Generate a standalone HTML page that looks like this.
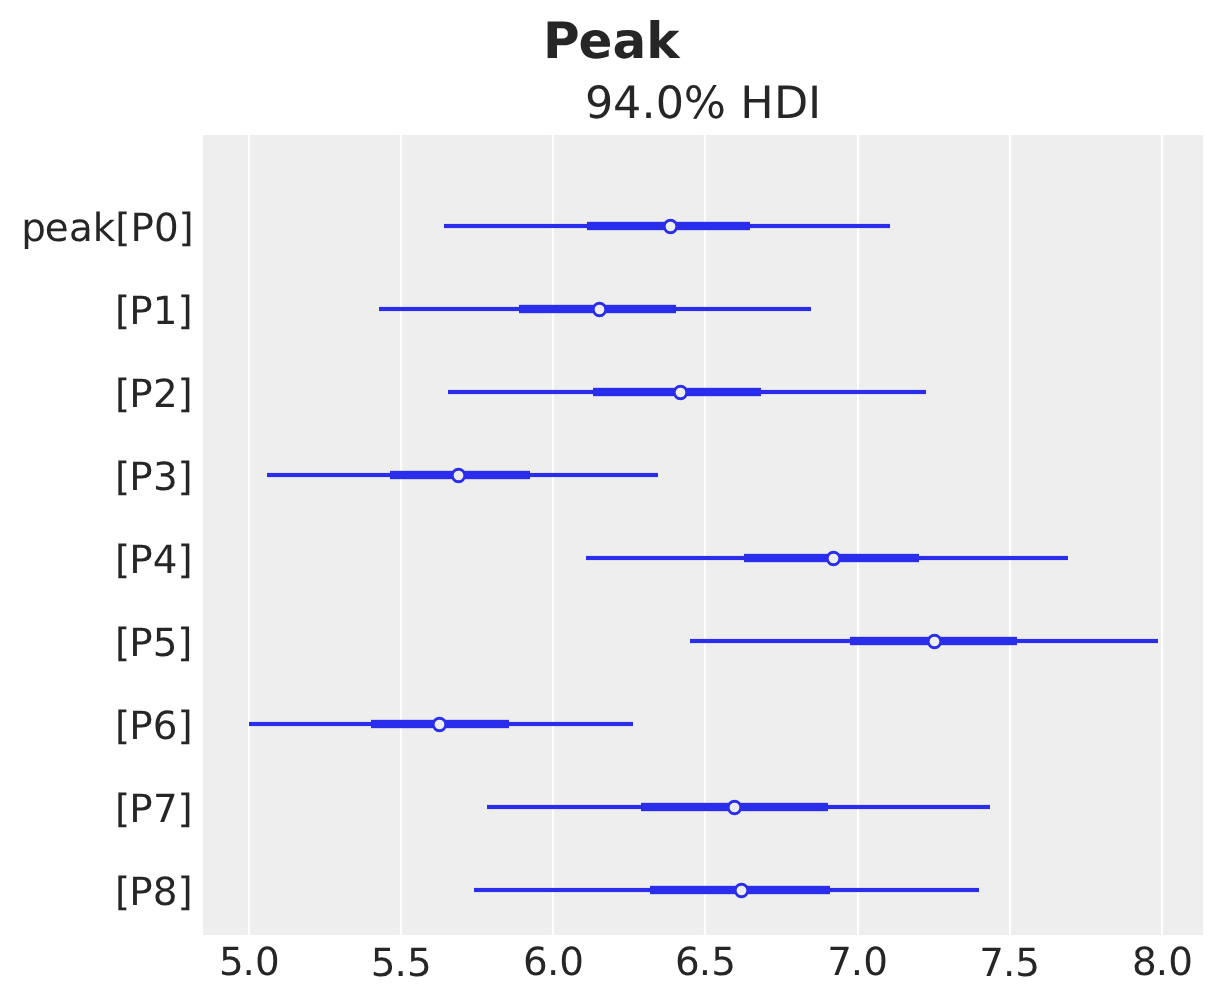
<!DOCTYPE html>
<html lang="en">
<head>
<meta charset="utf-8">
<title>Peak</title>
<style>
html,body{margin:0;padding:0;background:#ffffff;}
body{width:1223px;height:1003px;overflow:hidden;}
svg{display:block;}
text{font-family:"DejaVu Sans","Liberation Sans",sans-serif;fill:#262626;text-rendering:geometricPrecision;white-space:pre;}
.tick{font-size:38.89px;}
.title{font-size:44.44px;}
.sup{font-size:50px;font-weight:bold;}
</style>
</head>
<body>
<svg width="1223" height="1003" viewBox="0 0 1223 1003">
<rect x="0" y="0" width="1223" height="1003" fill="#ffffff"/>
<rect x="203" y="135" width="1000" height="800" fill="#eeeeee"/>
<g stroke="#ffffff" stroke-width="2.2">
<line x1="249" y1="135" x2="249" y2="935"/>
<line x1="401" y1="135" x2="401" y2="935"/>
<line x1="553" y1="135" x2="553" y2="935"/>
<line x1="705" y1="135" x2="705" y2="935"/>
<line x1="858" y1="135" x2="858" y2="935"/>
<line x1="1010" y1="135" x2="1010" y2="935"/>
<line x1="1162" y1="135" x2="1162" y2="935"/>
</g>
<g fill="#2a2eec" shape-rendering="crispEdges">
<rect x="444" y="223" width="446" height="6" fill-opacity="0.087"/>
<rect x="444" y="224" width="446" height="4"/>
<rect x="587" y="221" width="163" height="10" fill-opacity="0.17"/>
<rect x="587" y="222" width="163" height="8"/>
<rect x="379" y="306" width="432" height="6" fill-opacity="0.087"/>
<rect x="379" y="307" width="432" height="4"/>
<rect x="519" y="304" width="157" height="10" fill-opacity="0.17"/>
<rect x="519" y="305" width="157" height="8"/>
<rect x="448" y="389" width="478" height="6" fill-opacity="0.087"/>
<rect x="448" y="390" width="478" height="4"/>
<rect x="593" y="387" width="168" height="10" fill-opacity="0.17"/>
<rect x="593" y="388" width="168" height="8"/>
<rect x="267" y="472" width="391" height="6" fill-opacity="0.087"/>
<rect x="267" y="473" width="391" height="4"/>
<rect x="390" y="470" width="140" height="10" fill-opacity="0.17"/>
<rect x="390" y="471" width="140" height="8"/>
<rect x="586" y="555" width="482" height="6" fill-opacity="0.087"/>
<rect x="586" y="556" width="482" height="4"/>
<rect x="744" y="553" width="175" height="10" fill-opacity="0.17"/>
<rect x="744" y="554" width="175" height="8"/>
<rect x="690" y="638" width="468" height="6" fill-opacity="0.087"/>
<rect x="690" y="639" width="468" height="4"/>
<rect x="850" y="636" width="167" height="10" fill-opacity="0.17"/>
<rect x="850" y="637" width="167" height="8"/>
<rect x="249" y="721" width="384" height="6" fill-opacity="0.087"/>
<rect x="249" y="722" width="384" height="4"/>
<rect x="371" y="719" width="138" height="10" fill-opacity="0.17"/>
<rect x="371" y="720" width="138" height="8"/>
<rect x="487" y="804" width="503" height="6" fill-opacity="0.087"/>
<rect x="487" y="805" width="503" height="4"/>
<rect x="641" y="802" width="187" height="10" fill-opacity="0.17"/>
<rect x="641" y="803" width="187" height="8"/>
<rect x="474" y="887" width="505" height="6" fill-opacity="0.087"/>
<rect x="474" y="888" width="505" height="4"/>
<rect x="650" y="885" width="180" height="10" fill-opacity="0.17"/>
<rect x="650" y="886" width="180" height="8"/>
</g>
<g stroke="#2a2eec" stroke-width="2.78" fill="#eeeeee">
<circle cx="670.5" cy="226.5" r="6.25"/>
<circle cx="599.5" cy="309.5" r="6.25"/>
<circle cx="680.5" cy="392.5" r="6.25"/>
<circle cx="458.5" cy="475.5" r="6.25"/>
<circle cx="833.5" cy="558.5" r="6.25"/>
<circle cx="934.5" cy="641.5" r="6.25"/>
<circle cx="439.5" cy="724.5" r="6.25"/>
<circle cx="734.5" cy="807.5" r="6.25"/>
<circle cx="741.5" cy="890.5" r="6.25"/>
</g>
<text class="tick" x="21.17 44.85 68.92 92.71 115.17 130.44 153.97 178.62" y="240.80">peak[P0]</text>
<text class="tick" x="114.97 129.24 152.69 177.58" y="323.56">[P1]</text>
<text class="tick" x="114.97 129.24 152.92 177.42" y="406.60">[P2]</text>
<text class="tick" x="114.97 129.24 153.10 177.42" y="489.58">[P3]</text>
<text class="tick" x="114.97 129.24 152.86 177.42" y="572.59">[P4]</text>
<text class="tick" x="114.97 129.24 152.76 177.29" y="655.62">[P5]</text>
<text class="tick" x="114.97 129.24 152.76 177.58" y="738.65">[P6]</text>
<text class="tick" x="114.97 129.24 152.92 177.58" y="821.65">[P7]</text>
<text class="tick" x="114.97 129.24 152.82 177.42" y="904.59">[P8]</text>
<text class="tick" x="218.94 242.60 255.06" y="975.03">5.0</text>
<text class="tick" x="370.87 394.52 406.97" y="976.06">5.5</text>
<text class="tick" x="523.04 546.94 559.14" y="975.08">6.0</text>
<text class="tick" x="674.96 698.85 711.29" y="975.11">6.5</text>
<text class="tick" x="827.27 850.77 863.23" y="975.07">7.0</text>
<text class="tick" x="979.19 1002.94 1015.13" y="976.10">7.5</text>
<text class="tick" x="1132.02 1155.72 1168.18" y="974.99">8.0</text>
<text class="title" x="584.88 613.10 641.59 655.63 683.79 726.15 740.31 773.99 808.06" y="117.70">94.0% HDI</text>
<text class="sup" x="543.05 578.61 612.48 646.33" y="58.00">Peak</text>
</svg>
</body>
</html>
